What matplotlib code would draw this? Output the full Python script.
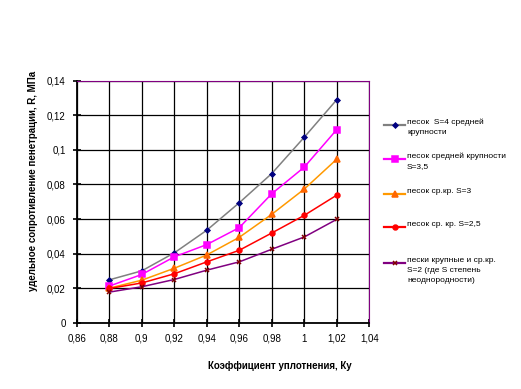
import matplotlib
matplotlib.use("Agg")
import matplotlib.pyplot as plt
from matplotlib.lines import Line2D
from matplotlib.ticker import FuncFormatter

plt.rcParams['font.family'] = ['Liberation Sans', 'DejaVu Sans']

ku = [0.88, 0.90, 0.92, 0.94, 0.96, 0.98, 1.00, 1.02]
s4 = [0.0248, 0.0300, 0.0404, 0.0535, 0.0694, 0.0863, 0.1073, 0.1290]
s35 = [0.0212, 0.0279, 0.0381, 0.0452, 0.0550, 0.0746, 0.0900, 0.1117]
s3 = [0.0200, 0.0246, 0.0315, 0.0392, 0.0494, 0.0627, 0.0773, 0.0946]
s25 = [0.0198, 0.0230, 0.0283, 0.0352, 0.0419, 0.0519, 0.0621, 0.0738]
s2 = [0.0177, 0.0208, 0.0250, 0.0304, 0.0352, 0.0425, 0.0496, 0.0598]

labels = ["песок  S=4 средней\nкрупности",
          "песок средней крупности\nS=3,5",
          "песок ср.кр. S=3",
          "песок ср. кр. S=2,5",
          "пески крупные и ср.кр.\nS=2 (где S степень\nнеоднородности)"]

# line colour, marker, marker colour, marker size
styles = [("#808080", "D", "#000080", 2.5),
          ("#FF00FF", "s", "#FF00FF", 3.8),
          ("#FF9900", "^", "#FF6600", 3.8),
          ("#FF0000", "o", "#FF0000", 3.5),
          ("#800080", "x", "#800000", 3)]

fig = plt.figure(figsize=(5.21, 3.89), dpi=100)
ax = fig.add_axes([0.1474, 0.1704, 0.5613, 0.6221])

for ys, (lc, mk, mc, ms) in zip([s4, s35, s3, s25, s2], styles):
    ax.plot(ku, ys, color=lc, lw=1.1, marker=mk, markersize=ms,
            markerfacecolor=mc, markeredgecolor=mc, mew=1.1, zorder=3)

ax.set_xlim(0.86, 1.04)
ax.set_ylim(0, 0.14)
ax.set_xticks([0.86 + 0.02 * i for i in range(10)])
ax.set_yticks([0.02 * i for i in range(8)])

def comma(v, pos):
    s = ('%.2f' % v).rstrip('0').rstrip('.')
    return s.replace('.', ',')

ax.xaxis.set_major_formatter(FuncFormatter(comma))
ax.yaxis.set_major_formatter(FuncFormatter(comma))
ax.grid(True, color='black', lw=0.9)
ax.set_axisbelow(True)
ax.tick_params(direction='inout', length=6, width=1.2, labelsize=7, pad=5)
for side in ['top', 'right']:
    ax.spines[side].set_color('#800080')
    ax.spines[side].set_linewidth(0.8)
for side in ['left', 'bottom']:
    ax.spines[side].set_linewidth(1.3)

fig.text(33 / 521, 1 - 181 / 389, "удельное сопротивление пенетрации, R, МПа",
         rotation=90, ha='center', va='center', fontsize=7, fontweight='bold')
fig.text(280 / 521, 1 - 366 / 389, "Коэффициент уплотнения, Ку",
         ha='center', va='center', fontsize=7, fontweight='bold')

# legend drawn by hand
W, H = 521.0, 389.0
entry_y = [125, 159, 194, 227, 263]
for y, lab, (lc, mk, mc, ms) in zip(entry_y, labels, styles):
    fig.add_artist(Line2D([384 / W, 405 / W], [1 - y / H, 1 - y / H],
                          color=lc, lw=1.6))
    fig.add_artist(Line2D([394.5 / W], [1 - y / H], marker=mk, markersize=ms,
                          color=mc, mew=1.1))
    fig.text(407 / W, 1 - (y - 6) / H, lab, ha='left', va='top',
             fontsize=6, linespacing=1.55)

fig.savefig("out.png", dpi=100)
